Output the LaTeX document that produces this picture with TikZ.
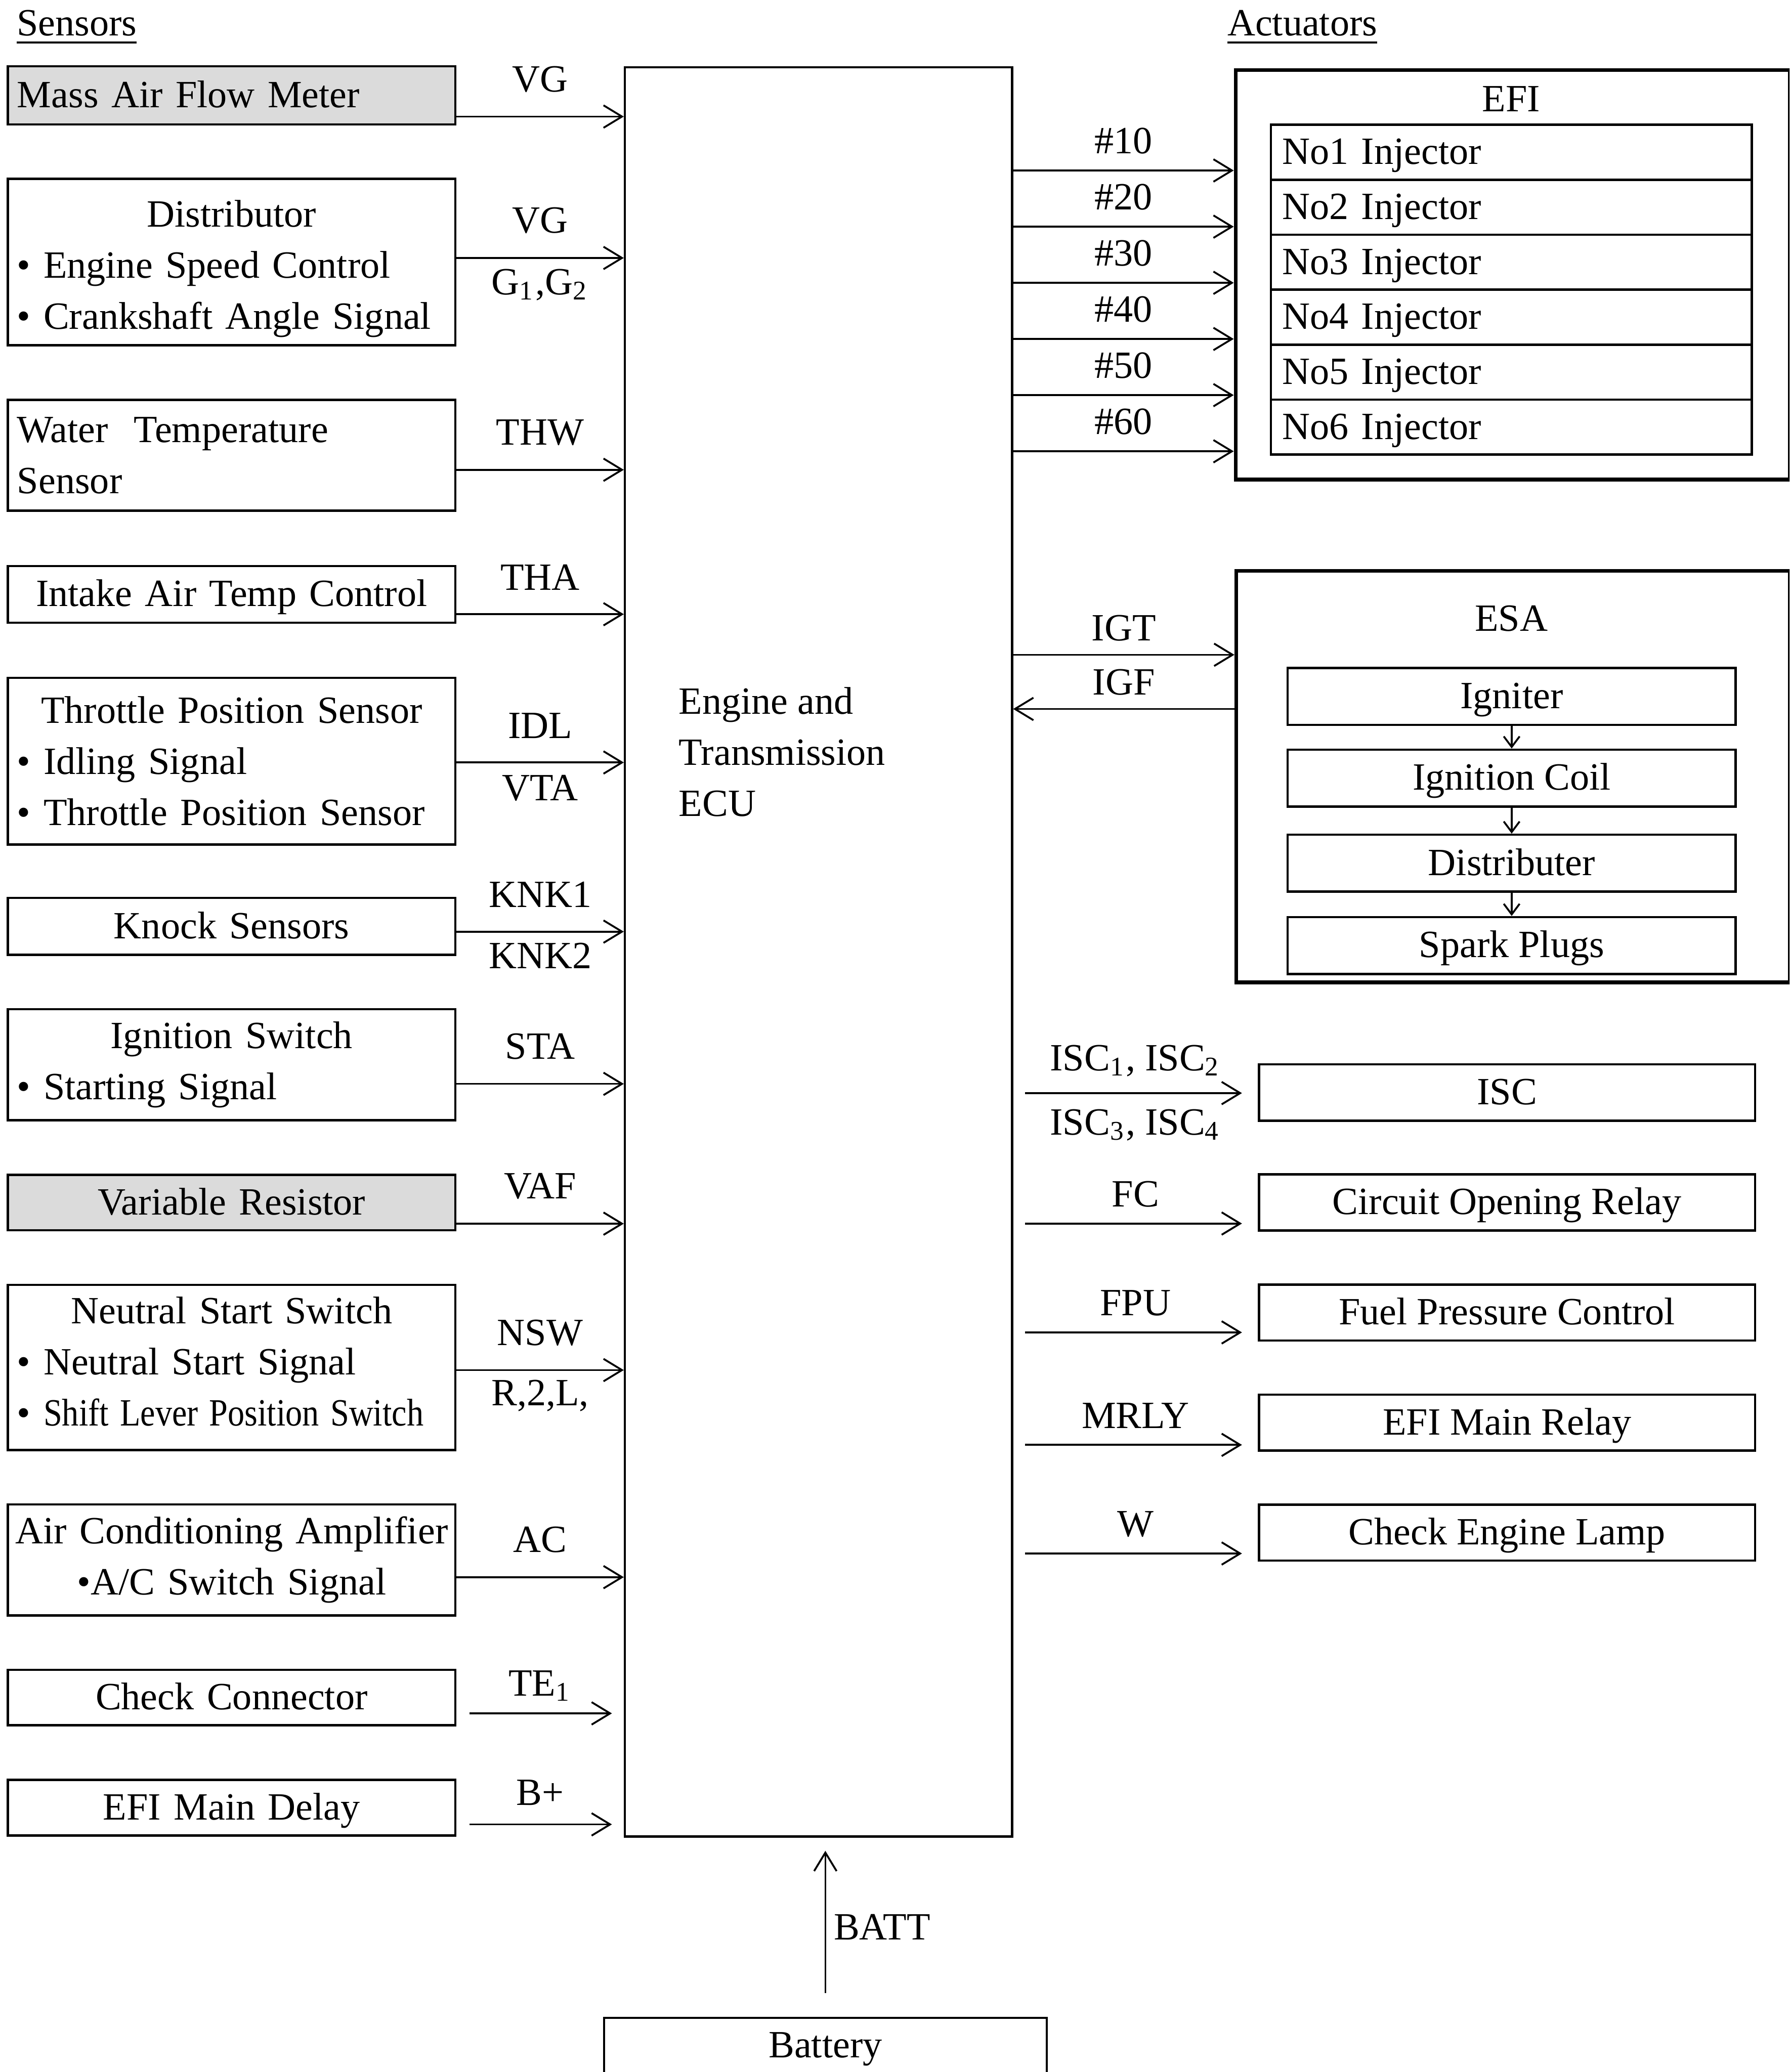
\documentclass[tikz,border=0pt]{standalone}
\usepackage{fontspec}
\setmainfont{Liberation Serif}
\usetikzlibrary{arrows.meta}
\def\unitsz{0.1mm}
\tikzset{
  sensorbox/.style={draw, line width=0.5pt, inner xsep=0.7mm, inner ysep=0.5mm,
    text width=32.45mm, align=center},
  shadedbox/.style={sensorbox, fill=black!14},
  oneline/.style={text height=6.5pt, text depth=1.3pt},
  groupbox/.style={draw, line width=0.8pt, anchor=north west},
  partbox/.style={draw, line width=0.5pt, inner xsep=0.85mm, inner ysep=0.5mm, oneline},
  sigline/.style={line width=0.4pt, -{Straight Barb[length=1.4mm,width=1.7mm]}},
  smallline/.style={line width=0.4pt, -{Straight Barb[length=0.8mm,width=1.2mm]}},
}
\begin{document}
\begin{tikzpicture}[x=\unitsz, y=-\unitsz, font=\fontsize{8.3}{11}\selectfont]
\useasboundingbox (0,0) rectangle (1354,1568);
\clip (0,0) rectangle (1354,1568);
\fill[white] (0,0) rectangle (1354,1568);
% Headings
\node[anchor=west, inner sep=0] (senshead) at (12,21) {\underline{Sensors}};
\node[anchor=west, inner sep=0] (acthead) at (928,21) {\underline{Actuators}};
% Sensors (left column)
\node[shadedbox, oneline, align=left, minimum height=44*\unitsz] (maf) at (175.25,72.2) {Mass Air Flow Meter};
\node[sensorbox, align=left, minimum height=126*\unitsz] (dist) at (175.25,198.2)
  {\makebox[\linewidth]{\rule{0pt}{8.7pt}Distributor}\\• Engine Speed Control\\• Crankshaft Angle Signal};
\node[sensorbox, align=left, minimum height=84*\unitsz] (wts) at (175.25,344.5)
  {Water\ \ Temperature\\Sensor};
\node[sensorbox, oneline, minimum height=43*\unitsz] (iat) at (175.25,449.8) {Intake Air Temp Control};
\node[sensorbox, align=left, minimum height=126*\unitsz] (tps) at (175.25,576)
  {\makebox[\linewidth]{Throttle Position Sensor}\\• Idling Signal\\• Throttle Position Sensor};
\node[sensorbox, oneline, minimum height=43*\unitsz] (knk) at (175.25,701) {Knock Sensors};
\node[sensorbox, align=left, minimum height=84*\unitsz] (ign) at (175.25,805.7)
  {\makebox[\linewidth]{Ignition Switch}\\• Starting Signal};
\node[shadedbox, oneline, minimum height=42*\unitsz] (vaf) at (175.25,910) {Variable Resistor};
\node[sensorbox, align=left, minimum height=125*\unitsz] (nss) at (175.25,1034.8)
  {\makebox[\linewidth]{Neutral Start Switch}\\• Neutral Start Signal\\• \scalebox{0.87}[1]{Shift Lever Position Switch}\rule[-2.6pt]{0pt}{2.6pt}};
\node[sensorbox, minimum height=84*\unitsz] (aca) at (175.25,1180.5)
  {\makebox[\linewidth]{Air Conditioning Amplifier}\\\makebox[\linewidth]{•A/C Switch Signal}};
\node[sensorbox, oneline, minimum height=42*\unitsz] (chk) at (175.25,1284.6) {Check Connector};
\node[sensorbox, oneline, minimum height=42*\unitsz] (emd) at (175.25,1368) {EFI Main Delay};
% ECU
\node[draw, line width=0.45pt, anchor=north west, minimum width=293*\unitsz,
  minimum height=1339*\unitsz] (ecu) at (472,50) {};
\node[anchor=west, align=left, inner sep=0] (ecutext) at (513,569) {Engine and\\Transmission\\ECU};
% Sensor signals into the ECU
\foreach \src/\dy in {maf/16, dist/-3, wts/11, iat/15, tps/1, knk/4, ign/14.5, vaf/16,
    nss/2, aca/13, chk/12, emd/12.6}
  \path (\src.east) ++(0,\dy) coordinate (\src-out);
\draw[sigline] (maf-out) -- node[above=0.6mm] {VG} (maf-out -| ecu.west);
\draw[sigline] (dist-out) -- node[above=0.6mm] {VG}
  node[below=-0.4mm] {G\textsubscript{1},G\textsubscript{2}} (dist-out -| ecu.west);
\draw[sigline] (wts-out) -- node[above=0.6mm] {THW} (wts-out -| ecu.west);
\draw[sigline] (iat-out) -- node[above=0.6mm] {THA} (iat-out -| ecu.west);
\draw[sigline] (tps-out) -- node[above=0.6mm] {IDL} node[below=-0.3mm] {VTA} (tps-out -| ecu.west);
\draw[sigline] (knk-out) -- node[above=0.6mm] {KNK1} node[below=-0.4mm] {KNK2} (knk-out -| ecu.west);
\draw[sigline] (ign-out) -- node[above=0.6mm] {STA} (ign-out -| ecu.west);
\draw[sigline] (vaf-out) -- node[above=0.6mm] {VAF} (vaf-out -| ecu.west);
\draw[sigline] (nss-out) -- node[above=0.6mm] {NSW} node[below=-0.5mm] {R,2,L,} (nss-out -| ecu.west);
\draw[sigline] (aca-out) -- node[above=0.6mm] {AC} (aca-out -| ecu.west);
\draw[sigline, shorten <=1mm, shorten >=0.9mm] (chk-out) -- node[above=-0.3mm] {TE\textsubscript{1}} (chk-out -| ecu.west);
\draw[sigline, shorten <=1mm, shorten >=0.9mm] (emd-out) -- node[above=0.2mm] {B+} (emd-out -| ecu.west);
% EFI
\node[groupbox, minimum width=419.5*\unitsz, minimum height=310*\unitsz] (efi) at (933.5,51.5) {};
\node (efititle) at (1143.5,75) {EFI};
\foreach \i in {1,...,6} {
  \node[partbox, text width=34.68mm, align=left, minimum height=41.6*\unitsz] (inj\i)
    at (1143.5,{73.6+41.6*\i}) {No\i\ Injector};
  \path (inj\i.west) ++(0,{12.9+0.9*\i}) coordinate (inj\i-in);
  \draw[sigline] (inj\i-in -| ecu.east) -- node[above] {\#\i0} (inj\i-in -| efi.west);
}
% ESA
\node[groupbox, minimum width=419*\unitsz, minimum height=311.5*\unitsz] (esa) at (934,430.5) {};
\node (esatitle) at (1143.5,468) {ESA};
\node[partbox, minimum width=339*\unitsz, minimum height=43*\unitsz] (igniter) at (1143.8,527) {Igniter};
\node[partbox, minimum width=339*\unitsz, minimum height=43*\unitsz] (coil) at (1143.8,588.8) {Ignition Coil};
\node[partbox, minimum width=339*\unitsz, minimum height=43*\unitsz] (distr) at (1143.8,653.2) {Distributer};
\node[partbox, minimum width=339*\unitsz, minimum height=43*\unitsz] (plugs) at (1143.8,715.5) {Spark Plugs};
\draw[smallline] (igniter) -- (coil);
\draw[smallline] (coil) -- (distr);
\draw[smallline] (distr) -- (plugs);
\path (esa.north west) ++(0,65) coordinate (igt-in);
\path (esa.north west) ++(0,106) coordinate (igf-out);
\draw[sigline] (igt-in -| ecu.east) -- node[above=-0.2mm] {IGT} (igt-in);
\draw[sigline] (igf-out) -- node[above=-0.2mm] {IGF} (igf-out -| ecu.east);
% Other actuators
\node[partbox, minimum width=375.3*\unitsz, minimum height=42.6*\unitsz] (isc) at (1140.25,826.7) {ISC};
\node[partbox, minimum width=375.3*\unitsz, minimum height=42.6*\unitsz] (cor) at (1140.25,909.9) {Circuit Opening Relay};
\node[partbox, minimum width=375.3*\unitsz, minimum height=42.4*\unitsz] (fpc) at (1140.25,993.3) {Fuel Pressure Control};
\node[partbox, minimum width=375.3*\unitsz, minimum height=42.4*\unitsz] (emr) at (1140.25,1076.6) {EFI Main Relay};
\node[partbox, minimum width=375.3*\unitsz, minimum height=42.4*\unitsz] (cel) at (1140.25,1159.8) {Check Engine Lamp};
\foreach \dst/\dy in {isc/0.5, cor/16, fpc/15, emr/16.8, cel/15.8}
  \path (\dst.west) ++(0,\dy) coordinate (\dst-in);
\draw[sigline, shorten <=0.9mm, shorten >=1.2mm] (isc-in -| ecu.east) --
  node[above] {ISC\textsubscript{1}, ISC\textsubscript{2}}
  node[below] {ISC\textsubscript{3}, ISC\textsubscript{4}} (isc-in);
\draw[sigline, shorten <=0.9mm, shorten >=1.2mm] (cor-in -| ecu.east) -- node[above] {FC} (cor-in);
\draw[sigline, shorten <=0.9mm, shorten >=1.2mm] (fpc-in -| ecu.east) -- node[above] {FPU} (fpc-in);
\draw[sigline, shorten <=0.9mm, shorten >=1.2mm] (emr-in -| ecu.east) -- node[above] {MRLY} (emr-in);
\draw[sigline, shorten <=0.9mm, shorten >=1.2mm] (cel-in -| ecu.east) -- node[above] {W} (cel-in);
% Battery
\node[partbox, minimum width=335*\unitsz, minimum height=42*\unitsz] (batt) at (624.5,1548) {Battery};
\draw[sigline, shorten <=1.8mm, shorten >=1mm] (batt.north) -- node[right, xshift=-0.6mm] {BATT} (batt.north |- ecu.south);
\end{tikzpicture}
\end{document}
